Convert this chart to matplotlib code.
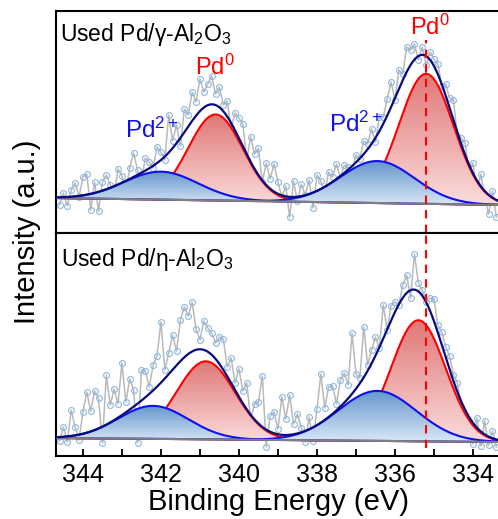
import numpy as np
import matplotlib
matplotlib.use("Agg")
import matplotlib.pyplot as plt
from matplotlib.colors import LinearSegmentedColormap
from matplotlib.ticker import MultipleLocator

plt.rcParams['font.family'] = ['Liberation Sans', 'DejaVu Sans']
plt.rcParams['mathtext.fontset'] = 'custom'
plt.rcParams['mathtext.rm'] = 'Liberation Sans'
plt.rcParams['mathtext.it'] = 'Liberation Sans:italic'
plt.rcParams['mathtext.default'] = 'regular'

# binding energy grid of the raw spectra (0.1 eV step)
energy = np.round(344.6 - 0.1 * np.arange(113), 2)

# raw counts (a.u.)
raw_gamma = [28, 40, 27, 43, 50, 36, 56, 59, 23, 51, 22, 51, 58, 48, 38, 64, 57, 41, 65, 80,
             63, 53, 75, 71, 65, 86, 81, 73, 118, 92, 108, 87, 124, 118, 141, 131, 154, 141, 149, 157,
             139, 146, 128, 132, 105, 120, 115, 109, 73, 96, 79, 85, 51, 70, 54, 69, 51, 36, 47, 16,
             52, 32, 49, 38, 53, 25, 58, 52, 40, 61, 56, 69, 55, 68, 66, 61, 78, 74, 92, 89,
             104, 91, 116, 116, 134, 151, 133, 163, 159, 186, 183, 189, 173, 186, 168, 181, 174, 169, 147, 149,
             135, 133, 97, 95, 90, 61, 70, 39, 59, 36, 19, 42, 16]
raw_eta = [15, 29, 14, 46, 29, 16, 44, 64, 45, 65, 58, 13, 81, 51, 67, 52, 93, 54, 77, 66,
           13, 86, 85, 69, 91, 100, 134, 86, 103, 121, 105, 136, 149, 140, 154, 127, 116, 135, 128, 123,
           113, 119, 117, 89, 98, 73, 87, 65, 73, 37, 52, 54, 80, 9, 40, 44, 27, 59, 37, 61,
           32, 42, 28, 14, 39, 15, 47, 82, 48, 69, 70, 52, 76, 83, 71, 123, 82, 78, 129, 91,
           106, 119, 108, 151, 126, 150, 154, 151, 171, 181, 158, 202, 173, 166, 154, 158, 157, 131, 124, 109,
           100, 81, 73, 49, 35, 35, 12, 38, 10, 35, 11, 25, 9]

# fitted components: centre (eV), height, sigma (eV)
pd0_gamma = [(340.6, 86, 0.70), (335.2, 130, 0.70)]
pd2_gamma = [(342.0, 28, 0.95), (336.45, 42, 0.95)]
pd0_eta = [(340.85, 78, 0.75), (335.4, 121, 0.70)]
pd2_eta = [(342.2, 33, 0.90), (336.45, 50, 1.00)]

# linear background end points (high BE, low BE)
bg_gamma = [35, 28]
bg_eta = [18, 14]

xlim = (344.69, 333.23)
pd0_line = 335.2


def gauss(x, c, a, s):
    return a * np.exp(-(x - c) ** 2 / (2 * s ** 2))


def grad_fill(ax, x, lo, hi, c_top, c_bot, z):
    poly = ax.fill_between(x, lo, hi, facecolor='none', edgecolor='none')
    path = poly.get_paths()[0]
    cmap = LinearSegmentedColormap.from_list('g', [c_bot, c_top])
    img = ax.imshow(np.linspace(0, 1, 256).reshape(-1, 1), cmap=cmap, aspect='auto',
                    origin='lower', extent=[x.max(), x.min(), lo.min(), hi.max()], zorder=z)
    img.set_clip_path(path, transform=ax.transData)


def draw_panel(ax, raw, pd0, pd2, bg_ends, ytop):
    x = np.linspace(xlim[0], xlim[1], 600)
    bg = np.interp(x, [xlim[1], xlim[0]], [bg_ends[1], bg_ends[0]])
    ax.plot(energy, raw, color='#b9b9b9', lw=1.1, zorder=1)
    ax.plot(energy, raw, 'o', ms=4.2, mfc='none', mec='#8db6dd', mew=0.8, zorder=1.5)
    total = bg.copy()
    for c, a, s in pd0:
        y = bg + gauss(x, c, a, s)
        total += gauss(x, c, a, s)
        grad_fill(ax, x, bg, y, '#e07777', '#fbdcdc', 2)
        ax.plot(x, y, color='#ff0000', lw=1.5, zorder=2.5)
    for c, a, s in pd2:
        y = bg + gauss(x, c, a, s)
        total += gauss(x, c, a, s)
        grad_fill(ax, x, bg, y, '#6396cc', '#d9e7f5', 3)
        ax.plot(x, y, color='#1010ee', lw=1.5, zorder=3.5)
    ax.plot(x, bg, color='#7f7f7f', lw=1.5, zorder=3.6)
    ax.plot(x, total, color='#0a0a80', lw=1.6, zorder=4)
    ax.set_xlim(*xlim)
    ax.set_ylim(0, ytop)
    ax.set_yticks([])
    for sp in ax.spines.values():
        sp.set_linewidth(1.5)


fig = plt.figure(figsize=(4.98, 5.19), dpi=100)
ax1 = fig.add_axes([56 / 498, 1 - 233 / 519, 447 / 498, 222 / 519])
ax2 = fig.add_axes([56 / 498, 1 - 456 / 519, 447 / 498, 223 / 519])

draw_panel(ax1, raw_gamma, pd0_gamma, pd2_gamma, bg_gamma, 222)
draw_panel(ax2, raw_eta, pd0_eta, pd2_eta, bg_eta, 223)

ax1.set_xticks([])
ax2.xaxis.set_major_locator(MultipleLocator(2))
ax2.xaxis.set_minor_locator(MultipleLocator(1))
ax2.tick_params(axis='x', which='both', direction='in', length=5, width=1.3,
                labelsize=18, pad=5)

ax1.axvline(pd0_line, ymin=0, ymax=0.87, color='#ff0000', ls=(0, (4, 3)), lw=1.5, zorder=5)
ax2.axvline(pd0_line, ymin=0.036, ymax=1, color='#ff0000', ls=(0, (4, 3)), lw=1.5, zorder=5)

ax1.text(0.009, 0.955, 'Used Pd/γ-Al$_2$O$_3$', transform=ax1.transAxes,
         fontsize=16.5, va='top', ha='left')
ax2.text(0.012, 0.94, 'Used Pd/η-Al$_2$O$_3$', transform=ax2.transAxes,
         fontsize=16.5, va='top', ha='left')

ax1.text(342.23, 103, 'Pd$^{2+}$', color='#1010ee', fontsize=17.5, ha='center', va='center')
ax1.text(337.0, 109, 'Pd$^{2+}$', color='#1010ee', fontsize=17.5, ha='center', va='center')
ax1.text(340.62, 166, 'Pd$^{0}$', color='#ff0000', fontsize=17, ha='center', va='center')
ax1.text(335.1, 206, 'Pd$^{0}$', color='#ff0000', fontsize=17, ha='center', va='center')

fig.text(0.559, 1 - 510 / 519, 'Binding Energy (eV)', fontsize=21, ha='center', va='baseline')
fig.text(0.055, 0.553, 'Intensity (a.u.)', fontsize=21, rotation=90, ha='center', va='center')

fig.savefig('out.png', dpi=100)
